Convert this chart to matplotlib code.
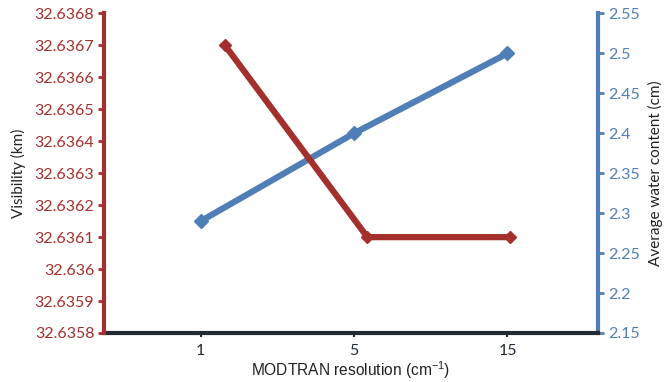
import matplotlib
matplotlib.use("Agg")
import matplotlib.pyplot as plt
from matplotlib.ticker import FuncFormatter

# data
resolutions = ["1", "5", "15"]
visibility = [32.6367, 32.6361, 32.6361]       # km, left axis
water = [2.29, 2.40, 2.50]                      # cm, right axis

vis_ticks = [32.6358 + 0.0001 * i for i in range(11)]
water_ticks = [2.15 + 0.05 * i for i in range(9)]

RED = "#A3302D"
BLUE = "#4F7FB6"
DARK = "#222A33"
TICKFONT = "Lato"

fig = plt.figure(figsize=(6.68, 3.82), dpi=100)
pos = [0.1557, 0.1283, 0.7395, 0.8364]

# blue series: category axis with right y axis
ax = fig.add_axes(pos)
ax.set_xlim(-0.63, 2.59)
ax.set_ylim(2.15, 2.55)
ax.yaxis.tick_right()
ax.yaxis.set_label_position("right")
xs = list(range(len(resolutions)))
ax.plot(xs, water, color=BLUE, lw=4.5, marker="D", ms=7, zorder=3)
ax.set_xticks(xs)
ax.set_xticklabels(resolutions, fontsize=11.5, fontname=TICKFONT)
ax.set_yticks(water_ticks)
ax.yaxis.set_major_formatter(FuncFormatter(lambda v, p: f"{v:.2f}".rstrip("0").rstrip(".")))
for lab in ax.get_yticklabels():
    lab.set_fontname(TICKFONT)
ax.tick_params(axis="y", colors=BLUE, labelsize=11.5, length=4, width=2, pad=3)
ax.tick_params(axis="x", colors=DARK, labelsize=11.5, length=3, width=1.5, pad=5)
ax.set_ylabel("Average water content (cm)", fontsize=11, fontname=TICKFONT,
              color="#222222", labelpad=6)
fig.text(0.5255, 0.016, r"MODTRAN resolution (cm$^{\mathregular{-1}}$)",
         ha="center", va="baseline", fontsize=11.2, fontname="Liberation Sans",
         color="#222222")
for s in ("top", "left"):
    ax.spines[s].set_visible(False)
ax.spines["right"].set_color(BLUE)
ax.spines["right"].set_linewidth(3)
ax.spines["bottom"].set_color(DARK)
ax.spines["bottom"].set_linewidth(3)
ax.spines["bottom"].set_zorder(5)

# red series: own (shifted) category axis with left y axis
axr = fig.add_axes(pos)
axr.patch.set_visible(False)
axr.set_xlim(-0.85, 2.62)
axr.set_ylim(32.6358, 32.6368)
axr.plot(xs, visibility, color=RED, lw=4.5, marker="D", ms=6, zorder=3)
axr.xaxis.set_visible(False)
axr.set_yticks(vis_ticks)
axr.yaxis.set_major_formatter(FuncFormatter(lambda v, p: f"{v:.4f}".rstrip("0").rstrip(".")))
for lab in axr.get_yticklabels():
    lab.set_fontname(TICKFONT)
axr.tick_params(axis="y", colors=RED, labelsize=11.5, length=4, width=2, pad=3)
axr.set_ylabel("Visibility (km)", fontsize=11, fontname=TICKFONT,
               color="#222222", labelpad=6)
for s in ("top", "right", "bottom"):
    axr.spines[s].set_visible(False)
axr.spines["left"].set_color(RED)
axr.spines["left"].set_linewidth(3)

fig.savefig("out.png", dpi=100)
